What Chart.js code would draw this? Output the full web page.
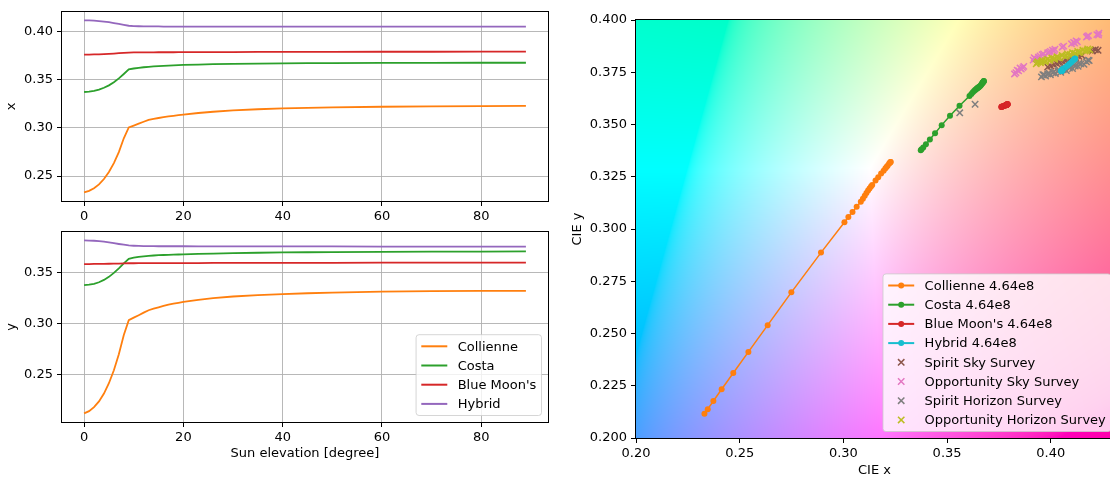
<!DOCTYPE html>
<html>
<head>
<meta charset="utf-8">
<script src="https://cdn.jsdelivr.net/npm/chart.js@4.4.1/dist/chart.umd.min.js"></script>
<style>
  html, body { margin: 0; padding: 0; background: #fff; }
  body { width: 1110px; height: 480px; position: relative; overflow: hidden; }
  canvas { position: absolute; }
</style>
</head>
<body>
<canvas id="xChart" width="560" height="230" style="left:0;top:0"></canvas>
<canvas id="yChart" width="560" height="260" style="left:0;top:220px"></canvas>
<canvas id="cieChart" width="550" height="480" style="left:570px;top:0"></canvas>
<script>
// sun elevation samples [degree]
const elevation = [0, 1, 2, 3, 4, 5, 6, 7, 8, 9, 10, 11, 12, 13, 14, 15, 16, 17, 18, 19, 20,
                   23, 26, 30, 35, 40, 45, 50, 60, 70, 80, 89];

const collienneX = [0.2330, 0.2346, 0.2373, 0.2413, 0.2469, 0.2542, 0.2635, 0.2749, 0.2892, 0.3005, 0.3024,
                    0.3044, 0.3064, 0.3084, 0.3094, 0.3103, 0.3111, 0.3119, 0.3126, 0.3133, 0.3139,
                    0.3155, 0.3168, 0.3182, 0.3194, 0.3202, 0.3208, 0.3213, 0.3220, 0.3224, 0.3227, 0.3228];
const collienneY = [0.2116, 0.2138, 0.2177, 0.2233, 0.2311, 0.2412, 0.2540, 0.2697, 0.2887, 0.3032, 0.3057,
                    0.3081, 0.3106, 0.3130, 0.3145, 0.3159, 0.3172, 0.3184, 0.3194, 0.3203, 0.3211,
                    0.3232, 0.3248, 0.3265, 0.3279, 0.3289, 0.3297, 0.3303, 0.3312, 0.3317, 0.3320, 0.3321];

const costaX = [0.3373, 0.3377, 0.3385, 0.3398, 0.3417, 0.3442, 0.3474, 0.3514, 0.3560, 0.3608, 0.3617,
                0.3624, 0.3630, 0.3635, 0.3639, 0.3642, 0.3645, 0.3648, 0.3650, 0.3652, 0.3654,
                0.3658, 0.3662, 0.3665, 0.3668, 0.3670, 0.3672, 0.3673, 0.3675, 0.3676, 0.3677, 0.3677];
const costaY = [0.3377, 0.3381, 0.3390, 0.3405, 0.3428, 0.3458, 0.3497, 0.3542, 0.3590, 0.3636, 0.3646,
                0.3654, 0.3660, 0.3665, 0.3668, 0.3671, 0.3673, 0.3675, 0.3677, 0.3678, 0.3679,
                0.3683, 0.3687, 0.3691, 0.3695, 0.3698, 0.3700, 0.3702, 0.3704, 0.3706, 0.3707, 0.3708];

const blueMoonX = [0.3762, 0.3762, 0.3763, 0.3764, 0.3766, 0.3769, 0.3772, 0.3776, 0.3780, 0.3783, 0.3784,
                   0.3784, 0.3785, 0.3785, 0.3785, 0.3786, 0.3786, 0.3786, 0.3786, 0.3787, 0.3787,
                   0.3787, 0.3788, 0.3788, 0.3789, 0.3789, 0.3790, 0.3790, 0.3791, 0.3791, 0.3792, 0.3792];
const blueMoonY = [0.3584, 0.3584, 0.3585, 0.3585, 0.3586, 0.3587, 0.3588, 0.3589, 0.3591, 0.3592, 0.3592,
                   0.3593, 0.3593, 0.3593, 0.3593, 0.3594, 0.3594, 0.3594, 0.3594, 0.3594, 0.3594,
                   0.3594, 0.3595, 0.3595, 0.3595, 0.3596, 0.3596, 0.3596, 0.3597, 0.3597, 0.3597, 0.3597];

const hybridX = [0.4117, 0.4116, 0.4114, 0.4110, 0.4105, 0.4098, 0.4089, 0.4080, 0.4070, 0.4061, 0.4058,
                 0.4056, 0.4055, 0.4054, 0.4054, 0.4054, 0.4053, 0.4053, 0.4053, 0.4053, 0.4053,
                 0.4053, 0.4052, 0.4052, 0.4052, 0.4052, 0.4052, 0.4051, 0.4051, 0.4051, 0.4051, 0.4051];
const hybridY = [0.3816, 0.3815, 0.3813, 0.3809, 0.3804, 0.3797, 0.3789, 0.3781, 0.3774, 0.3767, 0.3764,
                 0.3762, 0.3761, 0.3760, 0.3760, 0.3759, 0.3759, 0.3759, 0.3759, 0.3759, 0.3759,
                 0.3758, 0.3758, 0.3758, 0.3757, 0.3757, 0.3757, 0.3757, 0.3756, 0.3756, 0.3756, 0.3756];

// rover sky / horizon survey chromaticities
const spiritSkyX = [0.3985, 0.4000, 0.4015, 0.4030, 0.4045, 0.4060, 0.4075, 0.4090, 0.4105, 0.4120, 0.4135,
                    0.4150, 0.4190, 0.4200, 0.4215, 0.4228];
const spiritSkyY = [0.3775, 0.3780, 0.3786, 0.3790, 0.3796, 0.3800, 0.3806, 0.3810, 0.3816, 0.3820, 0.3826,
                    0.3830, 0.3856, 0.3852, 0.3858, 0.3855];

const oppSkyX = [0.3825, 0.3832, 0.3838, 0.3845, 0.3858, 0.3852, 0.3865, 0.3870, 0.3915, 0.3920, 0.3925,
                 0.3935, 0.3940, 0.3948, 0.3958, 0.3965, 0.3985, 0.3992, 0.3998, 0.4008, 0.4015, 0.4020,
                 0.4055, 0.4062, 0.4100, 0.4110, 0.4115, 0.4122, 0.4128, 0.4172, 0.4176, 0.4182,
                 0.4222, 0.4230, 0.4232];
const oppSkyY = [0.3742, 0.3748, 0.3760, 0.3757, 0.3765, 0.3770, 0.3772, 0.3778, 0.3808, 0.3820, 0.3815,
                 0.3812, 0.3822, 0.3828, 0.3834, 0.3838, 0.3843, 0.3845, 0.3850, 0.3856, 0.3852, 0.3860,
                 0.3870, 0.3875, 0.3886, 0.3893, 0.3890, 0.3900, 0.3896, 0.3918, 0.3922, 0.3925,
                 0.3930, 0.3928, 0.3937];

const spiritHorizonX = [0.3561, 0.3635, 0.3955, 0.3962, 0.3968, 0.3975, 0.3985, 0.3992, 0.3998, 0.4010, 0.4016,
                        0.4022, 0.4035, 0.4040, 0.4048, 0.4060, 0.4064, 0.4075, 0.4088, 0.4090, 0.4105,
                        0.4112, 0.4118, 0.4132, 0.4136, 0.4145, 0.4160, 0.4172, 0.4180, 0.4185];
const spiritHorizonY = [0.3556, 0.3597, 0.3728, 0.3738, 0.3737, 0.3732, 0.3742, 0.3745, 0.3738, 0.3748, 0.3753,
                        0.3744, 0.3755, 0.3761, 0.3750, 0.3762, 0.3769, 0.3758, 0.3777, 0.3770, 0.3768,
                        0.3785, 0.3780, 0.3778, 0.3793, 0.3790, 0.3788, 0.3800, 0.3808, 0.3806];

const oppHorizonX = [0.3930, 0.3935, 0.3938, 0.3950, 0.3955, 0.3960, 0.3972, 0.3975, 0.3985, 0.3995, 0.4005,
                     0.4015, 0.4018, 0.4030, 0.4035, 0.4042, 0.4055, 0.4068, 0.4075, 0.4080, 0.4092, 0.4095,
                     0.4105, 0.4115, 0.4118, 0.4130, 0.4135, 0.4142, 0.4155, 0.4165, 0.4175, 0.4178, 0.4188];
const oppHorizonY = [0.3790, 0.3796, 0.3800, 0.3795, 0.3801, 0.3806, 0.3800, 0.3806, 0.3812, 0.3806, 0.3818,
                     0.3815, 0.3812, 0.3824, 0.3820, 0.3818, 0.3830, 0.3826, 0.3830, 0.3838, 0.3832, 0.3835,
                     0.3844, 0.3839, 0.3840, 0.3850, 0.3844, 0.3846, 0.3856, 0.3852, 0.3854, 0.3862, 0.3858];

// tick labels
const elevationTicks = [0, 20, 40, 60, 80];
const xTicks = [0.25, 0.30, 0.35, 0.40];
const yTicks = [0.25, 0.30, 0.35];
const cieXTicks = [0.20, 0.25, 0.30, 0.35, 0.40];
const cieYTicks = [0.200, 0.225, 0.250, 0.275, 0.300, 0.325, 0.350, 0.375, 0.400];

const C = {
    orange: '#ff7f0e', green: '#2ca02c', red: '#d62728', purple: '#9467bd', cyan: '#17becf',
    brown: '#8c564b', pink: '#e377c2', gray: '#7f7f7f', olive: '#bcbd22'
};

Chart.defaults.font.family = "'DejaVu Sans', sans-serif";
Chart.defaults.font.size = 13;
Chart.defaults.color = '#000';

const pairs = (xs, ys) => xs.map((x, i) => ({x: x, y: ys[i]}));
const fixedTicks = list => axis => { axis.ticks = list.map(v => ({value: v})); };

// full box around the plotting area
const frame = {
    id: 'frame',
    afterDatasetsDraw(chart) {
        const {ctx, chartArea: a} = chart;
        ctx.save();
        ctx.strokeStyle = '#000';
        ctx.lineWidth = 1;
        ctx.strokeRect(Math.round(a.left) - 0.5, Math.round(a.top) - 0.5,
            Math.round(a.right - a.left) + 1, Math.round(a.bottom - a.top) + 1);
        ctx.restore();
    }
};

// legend box in the lower right corner of the axes
const boxLegend = {
    id: 'boxLegend',
    afterDraw(chart, args, opts) {
        const items = opts.items;
        if (!items) return;
        const {ctx, chartArea: a} = chart;
        ctx.save();
        ctx.font = "13px 'DejaVu Sans'";
        const pad = 5.2, handle = 26, gap = 10.4, rowH = 19.2;
        const inset = opts.inset || 6.5;
        const textW = Math.max(...items.map(it => ctx.measureText(it.label).width));
        const w = pad * 2 + handle + gap + textW;
        const h = items.length * rowH + 4;
        const right = a.right - inset, bottom = a.bottom - 6.5;
        const left = right - w, top = bottom - h;
        ctx.beginPath();
        ctx.roundRect(left, top, w, h, 3);
        ctx.fillStyle = 'rgba(255,255,255,0.8)';
        ctx.fill();
        ctx.strokeStyle = 'rgba(204,204,204,0.8)';
        ctx.lineWidth = 1;
        ctx.stroke();
        items.forEach((it, i) => {
            const cy = top + 2 + rowH * (i + 0.5);
            const hx = left + pad, mx = hx + handle / 2;
            ctx.strokeStyle = it.color;
            ctx.fillStyle = it.color;
            if (it.kind === 'cross') {
                ctx.lineWidth = 1.5;
                ctx.beginPath();
                ctx.moveTo(mx - 3.2, cy - 3.2); ctx.lineTo(mx + 3.2, cy + 3.2);
                ctx.moveTo(mx - 3.2, cy + 3.2); ctx.lineTo(mx + 3.2, cy - 3.2);
                ctx.stroke();
            } else {
                ctx.lineWidth = 2;
                ctx.beginPath();
                ctx.moveTo(hx, cy); ctx.lineTo(hx + handle, cy);
                ctx.stroke();
                if (it.kind === 'marker') {
                    ctx.beginPath();
                    ctx.arc(mx, cy, 3, 0, Math.PI * 2);
                    ctx.fill();
                }
            }
            ctx.fillStyle = '#000';
            ctx.textBaseline = 'middle';
            ctx.fillText(it.label, hx + handle + gap, cy + 1);
        });
        ctx.restore();
    }
};

// chromaticity colour field behind the CIE diagram
function xyToRgb(x, y) {
    const X = x / y, Z = (1 - x - y) / y;
    let r = 3.2406 * X - 1.5372 - 0.4986 * Z;
    let g = -0.9689 * X + 1.8758 + 0.0415 * Z;
    let b = 0.0557 * X - 0.2040 + 1.0570 * Z;
    r = Math.max(r, 0); g = Math.max(g, 0); b = Math.max(b, 0);
    const m = Math.max(r, g, b);
    const enc = c => {
        c = c / m;
        c = c <= 0.0031308 ? 12.92 * c : 1.055 * Math.pow(c, 1 / 2.4) - 0.055;
        return Math.round(255 * Math.min(1, c));
    };
    return [enc(r), enc(g), enc(b)];
}

const colourField = {
    id: 'colourField',
    beforeDatasetsDraw(chart) {
        const {ctx, chartArea: a, scales} = chart;
        const x0 = Math.round(a.left), y0 = Math.round(a.top);
        const w = Math.round(a.right) - x0, h = Math.round(a.bottom) - y0;
        if (!this.img || this.img.width !== w || this.img.height !== h) {
            const img = ctx.createImageData(w, h);
            for (let j = 0; j < h; j++) {
                const cy = scales.y.getValueForPixel(y0 + j + 0.5);
                for (let i = 0; i < w; i++) {
                    const cx = scales.x.getValueForPixel(x0 + i + 0.5);
                    const [r, g, b] = xyToRgb(cx, cy);
                    const k = (j * w + i) * 4;
                    img.data[k] = r; img.data[k + 1] = g; img.data[k + 2] = b; img.data[k + 3] = 255;
                }
            }
            this.img = img;
        }
        ctx.putImageData(this.img, x0, y0);
    }
};

function timeSeriesChart(id, yTitle, yMin, yMax, yList, opts) {
    const series = [
        {label: 'Collienne', color: C.orange, ys: opts.data[0]},
        {label: 'Costa', color: C.green, ys: opts.data[1]},
        {label: "Blue Moon's", color: C.red, ys: opts.data[2]},
        {label: 'Hybrid', color: C.purple, ys: opts.data[3]}
    ];
    return new Chart(document.getElementById(id), {
        type: 'line',
        data: {
            datasets: series.map((s, i) => ({
                label: s.label,
                data: pairs(elevation, s.ys),
                borderColor: s.color,
                borderWidth: 1.8,
                pointRadius: 0,
                tension: 0,
                order: 4 - i
            }))
        },
        options: {
            responsive: false,
            animation: false,
            devicePixelRatio: 1,
            layout: {padding: opts.padding},
            plugins: {
                legend: {display: false},
                tooltip: {enabled: false},
                boxLegend: {items: opts.legend ? series.map(s => ({label: s.label, color: s.color, kind: 'line'})) : null}
            },
            scales: {
                x: {
                    type: 'linear', min: -4.45, max: 93.45,
                    afterBuildTicks: fixedTicks(elevationTicks),
                    afterFit: axis => { axis.height = opts.xHeight; },
                    ticks: {autoSkip: false, maxRotation: 0, padding: 3, callback: v => String(v)},
                    grid: {color: '#b0b0b0', lineWidth: 0.9, tickColor: '#000', tickLength: 5, tickWidth: 1},
                    border: {display: false},
                    title: {display: !!opts.xTitle, text: opts.xTitle || '', padding: {top: 0, bottom: 1}}
                },
                y: {
                    type: 'linear', min: yMin, max: yMax,
                    afterBuildTicks: fixedTicks(yList),
                    afterFit: axis => { axis.width = 62; },
                    ticks: {autoSkip: false, padding: 4, callback: v => v.toFixed(2)},
                    grid: {color: '#b0b0b0', lineWidth: 0.9, tickColor: '#000', tickLength: 5, tickWidth: 1},
                    border: {display: false},
                    title: {display: true, text: yTitle, padding: {top: 4, bottom: 0}}
                }
            }
        },
        plugins: [frame, boxLegend]
    });
}

timeSeriesChart('xChart', 'x', 0.2241, 0.4206, xTicks, {
    data: [collienneX, costaX, blueMoonX, hybridX],
    padding: {top: 9, right: 12, bottom: 0, left: 0},
    xHeight: 29
});

timeSeriesChart('yChart', 'y', 0.2031, 0.3901, yTicks, {
    data: [collienneY, costaY, blueMoonY, hybridY],
    padding: {top: 9, right: 12, bottom: 18, left: 0},
    xHeight: 40,
    xTitle: 'Sun elevation [degree]',
    legend: true
});

const lineSeries = [
    {label: 'Collienne 4.64e8', color: C.orange, xs: collienneX, ys: collienneY},
    {label: 'Costa 4.64e8', color: C.green, xs: costaX, ys: costaY},
    {label: "Blue Moon's 4.64e8", color: C.red, xs: blueMoonX, ys: blueMoonY},
    {label: 'Hybrid 4.64e8', color: C.cyan, xs: hybridX, ys: hybridY}
];
const surveySeries = [
    {label: 'Spirit Sky Survey', color: C.brown, xs: spiritSkyX, ys: spiritSkyY},
    {label: 'Opportunity Sky Survey', color: C.pink, xs: oppSkyX, ys: oppSkyY},
    {label: 'Spirit Horizon Survey', color: C.gray, xs: spiritHorizonX, ys: spiritHorizonY},
    {label: 'Opportunity Horizon Survey', color: C.olive, xs: oppHorizonX, ys: oppHorizonY}
];

new Chart(document.getElementById('cieChart'), {
    type: 'scatter',
    data: {
        datasets: lineSeries.map((s, i) => ({
            label: s.label,
            data: pairs(s.xs, s.ys),
            showLine: true,
            borderColor: s.color,
            borderWidth: 1.5,
            pointRadius: 3,
            pointBackgroundColor: s.color,
            pointBorderWidth: 0,
            order: 4 - i
        })).concat(surveySeries.map((s, i) => ({
            label: s.label,
            data: pairs(s.xs, s.ys),
            pointStyle: 'crossRot',
            pointRadius: 4.5,
            pointBorderColor: s.color,
            pointBorderWidth: 1.5,
            order: 8 - i
        })))
    },
    options: {
        responsive: false,
        animation: false,
        devicePixelRatio: 1,
        layout: {padding: {top: 20, right: 7, bottom: 2, left: 0}},
        plugins: {
            legend: {display: false},
            tooltip: {enabled: false},
            boxLegend: {
                inset: 2,
                items: lineSeries.map(s => ({label: s.label, color: s.color, kind: 'marker'}))
                    .concat(surveySeries.map(s => ({label: s.label, color: s.color, kind: 'cross'})))
            }
        },
        scales: {
            x: {
                type: 'linear', min: 0.2, max: 0.43,
                afterBuildTicks: fixedTicks(cieXTicks),
                afterFit: axis => { axis.height = 40; },
                ticks: {autoSkip: false, maxRotation: 0, padding: 3, callback: v => v.toFixed(2)},
                grid: {drawOnChartArea: false, tickColor: '#000', tickLength: 5, tickWidth: 1},
                border: {display: false},
                title: {display: true, text: 'CIE x', padding: {top: 0, bottom: 0}}
            },
            y: {
                type: 'linear', min: 0.2, max: 0.4,
                afterBuildTicks: fixedTicks(cieYTicks),
                afterFit: axis => { axis.width = 66; },
                ticks: {autoSkip: false, padding: 4, callback: v => v.toFixed(3)},
                grid: {drawOnChartArea: false, tickColor: '#000', tickLength: 5, tickWidth: 1},
                border: {display: false},
                title: {display: true, text: 'CIE y', padding: {top: 0, bottom: 0}}
            }
        }
    },
    plugins: [colourField, frame, boxLegend]
});
</script>
</body>
</html>
